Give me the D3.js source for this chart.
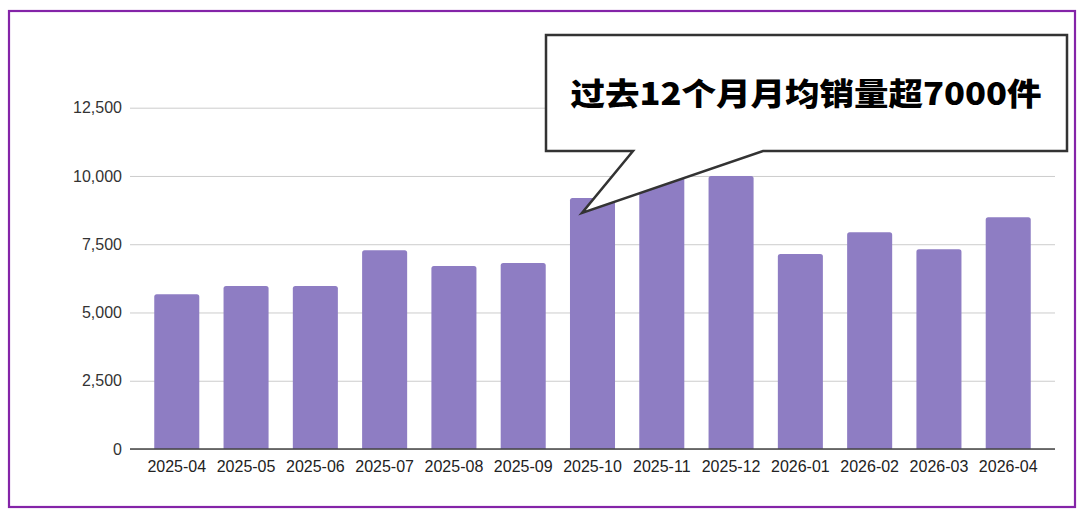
<!DOCTYPE html>
<html>
<head>
<meta charset="utf-8">
<script src="https://cdn.jsdelivr.net/npm/d3@7/dist/d3.min.js"></script>
<style>
  html, body { margin: 0; padding: 0; background: #fff; }
  svg { display: block; }
</style>
</head>
<body>
<svg id="chart" width="1080" height="515"></svg>
<script>
// ---- data ----
const months = ["2025-04","2025-05","2025-06","2025-07","2025-08","2025-09","2025-10","2025-11","2025-12","2026-01","2026-02","2026-03","2026-04"];
const sales = [5670, 5970, 5970, 7280, 6700, 6810, 9190, 10200, 10000, 7140, 7940, 7320, 8490];
const yTicks = [0, 2500, 5000, 7500, 10000, 12500];
const calloutText = "过去12个月月均销量超7000件";

// ---- layout ----
const svg = d3.select("#chart");
const plotLeft = 130, plotRight = 1055, plotTop = 107.7, plotBottom = 449;

const x = d3.scaleBand().domain(months).range([plotLeft, plotRight]).paddingInner(0.35).paddingOuter(0.35);
const y = d3.scaleLinear().domain([0, 12500]).range([plotBottom, plotTop]);

// outer frame
svg.append("rect")
  .attr("x", 9).attr("y", 11).attr("width", 1066).attr("height", 496)
  .attr("fill", "none").attr("stroke", "#8424a8").attr("stroke-width", 2.2);

// gridlines
const yAxis = d3.axisLeft(y).tickValues(yTicks).tickSize(-(plotRight - plotLeft)).tickPadding(8)
  .tickFormat(d3.format(","));
const gy = svg.append("g").attr("transform", `translate(${plotLeft},0)`).call(yAxis);
gy.select(".domain").remove();
gy.selectAll(".tick line").attr("stroke", "#cccccc").attr("stroke-width", 1);
gy.selectAll(".tick text")
  .attr("font-family", "'Liberation Sans', Arial, sans-serif")
  .attr("font-size", 16).attr("fill", "#333").attr("x", -8);

// bars with rounded top corners
const r = 2.5;
svg.append("g").selectAll("path").data(sales).join("path")
  .attr("fill", "#8e7dc3")
  .attr("d", (d, i) => {
    const x0 = x(months[i]), w = x.bandwidth(), y0 = y(d), y1 = y(0);
    return `M${x0},${y1} V${y0 + r} Q${x0},${y0} ${x0 + r},${y0} H${x0 + w - r} Q${x0 + w},${y0} ${x0 + w},${y0 + r} V${y1} Z`;
  });

// x axis
const xAxis = d3.axisBottom(x).tickSize(0).tickPadding(12);
const gx = svg.append("g").attr("transform", `translate(0,${plotBottom})`).call(xAxis);
gx.select(".domain").attr("stroke", "#444").attr("stroke-width", 1.5).attr("d", `M${plotLeft},0H${plotRight}`);
gx.selectAll(".tick text")
  .attr("font-family", "'Liberation Sans', Arial, sans-serif")
  .attr("font-size", 16).attr("fill", "#222");

// callout
const cg = svg.append("g");
cg.append("path")
  .attr("d", "M546,35 H1067 V151 H763 L582,213 L633,151 H546 Z")
  .attr("fill", "#fff").attr("stroke", "#333").attr("stroke-width", 2.5).attr("stroke-linejoin", "miter");
cg.append("text")
  .attr("x", 806).attr("y", 94).attr("dy", "0.36em")
  .attr("text-anchor", "middle")
  .attr("font-family", "'Noto Sans CJK SC', sans-serif")
  .attr("font-weight", 900).attr("font-size", 31).attr("fill", "#000")
  .attr("textLength", 471).attr("lengthAdjust", "spacingAndGlyphs")
  .text(calloutText);
</script>
</body>
</html>
